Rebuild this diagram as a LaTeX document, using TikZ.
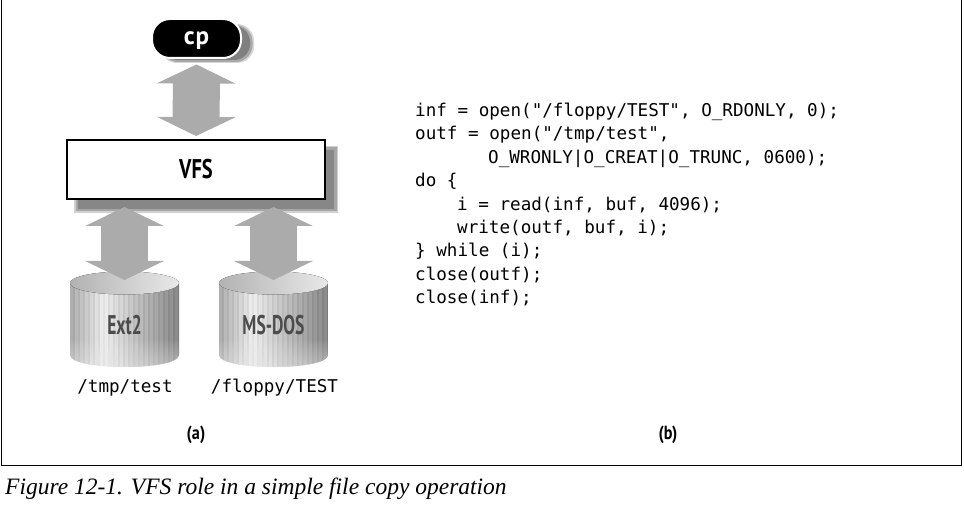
\documentclass[tikz,border=0pt]{standalone}
\usepackage{fontspec}
\usetikzlibrary{arrows.meta,calc}
\setmainfont{Liberation Serif}
\newfontfamily\codefont{DejaVu Sans Mono}
\newfontfamily\labelfont{PT Sans}
\definecolor{arrowgray}{gray}{0.67}
\newcommand{\cylbody}[2]{%
  \begin{scope}
    \clip (#1,283) -- (#1,355) .. controls (#1,371) and (#1+109,371) .. (#1+109,355) -- (#1+109,283) -- cycle;
    \foreach \i in {0,...,43}{
      \pgfmathsetmacro{\t}{\i/43}
      \pgfmathsetmacro{\base}{\t<0.3 ? 0.66+\t/0.3*0.25 : 0.91-(\t-0.3)/0.7*0.40}
      \pgfmathsetmacro{\g}{min(0.96,\base+(mod(\i,2)==0 ? 0.025 : -0.025))}
      \definecolor{stripe}{gray}{\g}
      \fill[stripe] (#1+\i*2.5,270) rectangle (#1+\i*2.5+2.6,370);
    }
    \foreach \yy in {340,342,...,366}{
      \fill[white,opacity=0.035] (#1,\yy) rectangle (#1+109,372);
    }
  \end{scope}
  \fill[left color=black!30,right color=black!9] (#1+54.5,283) ellipse[x radius=54.5,y radius=11.5];
  \node[box anchor,minimum width=109bp,minimum height=95bp] (#2) at (#1+54.5,319.5) {};
}
\tikzset{
  x=1bp,y=-1bp,
  box anchor/.style={inner sep=0pt,outer sep=0pt},
  frameline/.style={line width=1.3bp,black},
  bigarrow/.style={line width=47bp,arrowgray,{Triangle[length=19bp,width=78bp]}-{Triangle[length=19bp,width=78bp]}},
  codeline/.style={anchor=base west,inner sep=0pt,font=\codefont\fontsize{17.6bp}{20bp}\selectfont},
  pathlabel/.style={anchor=base,inner sep=0pt,font=\codefont\fontsize{17.6bp}{20bp}\selectfont},
  sublabel/.style={inner sep=0pt,font=\labelfont\bfseries\fontsize{19bp}{22bp}\selectfont},
  disklabel/.style={inner sep=0pt,text=black!70,font=\labelfont\bfseries\fontsize{27bp}{30bp}\selectfont},
}
\begin{document}
\begin{tikzpicture}
\useasboundingbox (0,0) rectangle (964,505);
\fill[white] (0,0) rectangle (964,505);
\draw[frameline] (1.3,0) -- (1.3,465.3) -- (961.7,465.3) -- (961.7,0);
% shadows
\fill[black!16,rounded corners=17bp] (160,24) rectangle (254,63);
\fill[black!34,rounded corners=17bp] (161,25) rectangle (252.5,62);
\fill[black!50,rounded corners=16bp] (162,26) rectangle (250,60);
\fill[black!18] (74,146) rectangle (338,213);
\fill[black!35] (75.5,147.5) rectangle (336.5,211.5);
\fill[black!47] (78,150) rectangle (334,209);
% disks
\cylbody{70}{ext}
\cylbody{219}{msdos}
\node[disklabel] (extlabel) at (124.5,325) {\scalebox{0.65}[1]{Ext2}};
\node[disklabel] (msdoslabel) at (273.5,325) {\scalebox{0.65}[1]{MS-DOS}};
% boxes
\node[fill=black,draw=white,line width=2bp,rounded corners=18bp,minimum width=89bp,minimum height=39bp,inner sep=0pt,text=white] (cp) at (196.5,38.5)
  {\raisebox{-6.5bp}[0pt][0pt]{\labelfont\bfseries\fontsize{25bp}{28bp}\selectfont c\kern1bp p}};
\node[fill=white,draw=black,line width=2.5bp,minimum width=258bp,minimum height=59bp,inner sep=0pt,outer sep=0pt] (vfs) at (196,169.5)
  {\scalebox{0.757}[1]{\labelfont\bfseries\fontsize{27bp}{30bp}\selectfont VFS}};
% connectors
\draw[bigarrow,shorten <=5.5bp,shorten >=4bp] (cp.south) -- (vfs.north);
\draw[bigarrow,shorten <=8bp,shorten >=-8bp] (vfs.south -| ext.center) -- (ext.north);
\draw[bigarrow,shorten <=8bp,shorten >=-8bp] (vfs.south -| msdos.center) -- (msdos.north);
% path labels
\node[pathlabel] (tmp) at (125,392) {/tmp/test};
\node[pathlabel] (floppy) at (274.5,392) {/floppy/TEST};
% code
\node[codeline] (c1) at (415,116.5) {inf = open("/floppy/TEST", O\_RDONLY, 0);};
\node[codeline] (c2) at (415,139.9) {outf = open("/tmp/test",};
\node[codeline] (c3) at (488,163.3) {O\_WRONLY|O\_CREAT|O\_TRUNC, 0600);};
\node[codeline] (c4) at (415,186.7) {do \{};
\node[codeline] (c5) at (457,210.1) {i = read(inf, buf, 4096);};
\node[codeline] (c6) at (457,233.5) {write(outf, buf, i);};
\node[codeline] (c7) at (415,256.9) {\} while (i);};
\node[codeline] (c8) at (415,280.3) {close(outf);};
\node[codeline] (c9) at (415,303.7) {close(inf);};
% sublabels
\node[sublabel] (suba) at (196,434.5) {\scalebox{0.85}[1]{(a)}};
\node[sublabel] (subb) at (668,434.5) {\scalebox{0.85}[1]{(b)}};
% caption
\node[anchor=base west,inner sep=0pt,font=\itshape\fontsize{23.5bp}{26bp}\selectfont] (caption) at (5,494) {Figure 12-1. VFS role in a simple file copy operation};
\end{tikzpicture}
\end{document}
